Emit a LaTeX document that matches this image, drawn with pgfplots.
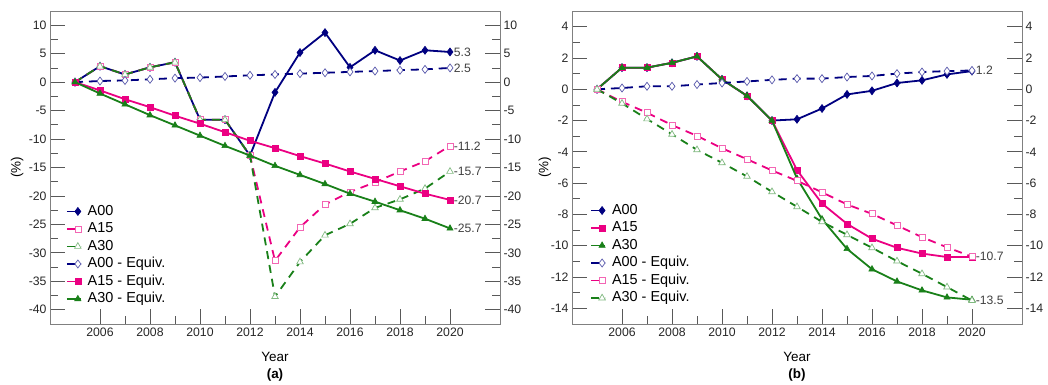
\documentclass[border=0pt]{standalone}
\usepackage{fontspec}
\setmainfont{Liberation Sans}
\usepackage{pgfplots}
\pgfplotsset{compat=1.18}
\definecolor{cnavy}{RGB}{0,0,128}
\definecolor{cpink}{RGB}{235,0,130}
\definecolor{cgreen}{RGB}{25,128,25}
\definecolor{cframe}{RGB}{128,128,128}
\tikzset{vlab/.style={pos=1, anchor=west, xshift=2bp, font=\fontsize{12.2}{14}\selectfont, text=black!75, inner sep=1bp}}
\pgfplotsset{
 base/.style={
  scale only axis, width=450bp, height=313bp, clip mode=individual,
  xmin=2004, xmax=2022,
  xtick={2006,2008,...,2020}, minor x tick num=1, minor y tick num=1,
  tick align=inside, xtick pos=bottom, ytick pos=both,
  major tick length=15bp, minor tick length=8bp,
  axis line style={cframe, line width=1bp},
  every tick/.style={black!65, line width=0.8bp},
  tick label style={font=\fontsize{12.3}{14}\selectfont, text=black!85},
  /pgf/number format/assume math mode=true,
  /pgf/number format/1000 sep={},
  label style={font=\fontsize{13.5}{15}\selectfont},
  xlabel={Year}, ylabel={(\%)},
  xlabel style={at={(axis description cs:0.5,-0.105)}, anchor=center},
  legend cell align=left,
  legend style={draw=none, fill=none, inner sep=0pt, row sep=2bp, font=\fontsize{14.5}{16}\selectfont, nodes={inner sep=1bp, text height=10.5bp, text depth=3bp}, /tikz/every odd column/.append style={column sep=5bp}},
  legend image code/.code={\draw[mark repeat=2, mark phase=2, #1] plot coordinates {(0bp,0bp) (11bp,0bp) (14bp,0bp)};},
 },
 raxis/.style={
  scale only axis, width=450bp, height=313bp,
  xmin=2004, xmax=2022, hide x axis, axis y line*=right,
  axis line style={draw=none}, ytick style={draw=none},
  yticklabel pos=right,
  tick label style={font=\fontsize{12.3}{14}\selectfont, text=black!85},
  /pgf/number format/assume math mode=true,
 },
 sol/.style={line width=1.8bp, solid},
 dsh/.style={line width=1.8bp, dash pattern=on 8bp off 6bp},
 sA00/.style={sol, cnavy, mark=diamond*, mark size=4bp, mark options={solid, fill=cnavy, line width=0.6bp}},
 sA15/.style={sol, cpink, mark=square*, mark size=3bp, mark options={solid, fill=cpink, line width=0.6bp}},
 sA30/.style={sol, cgreen, mark=triangle*, mark size=3.6bp, mark options={solid, fill=cgreen, line width=0.6bp}},
 oA00/.style={dsh, cnavy, mark=diamond*, mark size=4bp, mark options={solid, fill=white, draw=cnavy!65, line width=0.7bp}},
 oA15/.style={dsh, cpink, mark=square*, mark size=3bp, mark options={solid, fill=white, draw=cpink!60, line width=0.7bp}},
 oA30/.style={dsh, cgreen, mark=triangle*, mark size=3.8bp, mark options={solid, fill=white, draw=cgreen!55, line width=0.7bp}},
}
\begin{document}
\begin{tikzpicture}
\path[use as bounding box] (0,0) rectangle (1048bp,-385bp);
% ---------------- panel (a)
\begin{axis}[base, at={(50bp,-324bp)}, anchor=south west,
  ymin=-42.5, ymax=12.5, ytick={-40,-35,...,10},
  ylabel style={at={(axis description cs:-0.073,0.5)}, anchor=center},
  legend style={at={(axis description cs:0.035,0.385)}, anchor=north west}]
\addplot[sA00] coordinates {(2005,0)(2006,2.8)(2007,1.35)(2008,2.6)(2009,3.5)(2010,-6.6)(2011,-6.6)(2012,-12.9)(2013,-1.8)(2014,5.2)(2015,8.7)(2016,2.6)(2017,5.6)(2018,3.8)(2019,5.6)(2020,5.3)} node[vlab]{5.3};
\addlegendentry{A00}
\addplot[oA15] coordinates {(2005,0)(2006,2.8)(2007,1.35)(2008,2.6)(2009,3.5)(2010,-6.6)(2011,-6.6)(2012,-12.9)(2013,-31.4)(2014,-25.5)(2015,-21.5)(2016,-19.3)(2017,-17.6)(2018,-15.7)(2019,-13.9)(2020,-11.2)} node[vlab]{-11.2};
\addlegendentry{A15}
\addplot[oA30] coordinates {(2005,0)(2006,2.8)(2007,1.35)(2008,2.6)(2009,3.5)(2010,-6.6)(2011,-6.6)(2012,-12.9)(2013,-37.7)(2014,-31.6)(2015,-26.9)(2016,-24.9)(2017,-22.1)(2018,-20.6)(2019,-18.7)(2020,-15.7)} node[vlab]{-15.7};
\addlegendentry{A30}
\addplot[oA00] coordinates {(2005,0)(2006,0.2)(2007,0.3)(2008,0.5)(2009,0.7)(2010,0.8)(2011,1.0)(2012,1.2)(2013,1.35)(2014,1.5)(2015,1.65)(2016,1.8)(2017,1.95)(2018,2.1)(2019,2.25)(2020,2.5)} node[vlab]{2.5};
\addlegendentry{A00 - Equiv.}
\addplot[sA15] coordinates {(2005,0)(2006,-1.45)(2007,-3.0)(2008,-4.4)(2009,-5.9)(2010,-7.3)(2011,-8.8)(2012,-10.3)(2013,-11.6)(2014,-13.0)(2015,-14.3)(2016,-15.7)(2017,-17.0)(2018,-18.3)(2019,-19.6)(2020,-20.7)} node[vlab]{-20.7};
\addlegendentry{A15 - Equiv.}
\addplot[sA30] coordinates {(2005,0)(2006,-2.0)(2007,-3.9)(2008,-5.8)(2009,-7.6)(2010,-9.4)(2011,-11.2)(2012,-12.9)(2013,-14.7)(2014,-16.3)(2015,-17.9)(2016,-19.6)(2017,-21.0)(2018,-22.5)(2019,-24.0)(2020,-25.7)} node[vlab]{-25.7};
\addlegendentry{A30 - Equiv.}
\node[font=\bfseries\fontsize{13.5}{15}\selectfont] at (axis description cs:0.5,-0.163) {(a)};
\end{axis}
\begin{axis}[raxis, at={(50bp,-324bp)}, anchor=south west,
  ymin=-42.5, ymax=12.5, ytick={-40,-35,...,10}]
\end{axis}
% ---------------- panel (b)
\begin{axis}[base, at={(572bp,-324bp)}, anchor=south west,
  ymin=-15, ymax=5, ytick={-14,-12,...,4},
  ylabel style={at={(axis description cs:-0.06,0.5)}, anchor=center},
  legend style={at={(axis description cs:0.04,0.388)}, anchor=north west}]
\addplot[sA00] coordinates {(2005,0)(2006,1.38)(2007,1.38)(2008,1.69)(2009,2.1)(2010,0.63)(2011,-0.42)(2012,-2.0)(2013,-1.92)(2014,-1.23)(2015,-0.33)(2016,-0.1)(2017,0.4)(2018,0.57)(2019,0.95)(2020,1.16)};
\addlegendentry{A00}
\addplot[sA15] coordinates {(2005,0)(2006,1.38)(2007,1.38)(2008,1.69)(2009,2.1)(2010,0.63)(2011,-0.42)(2012,-2.0)(2013,-5.17)(2014,-7.3)(2015,-8.6)(2016,-9.55)(2017,-10.13)(2018,-10.5)(2019,-10.72)(2020,-10.72)};
\addlegendentry{A15}
\addplot[sA30] coordinates {(2005,0)(2006,1.38)(2007,1.38)(2008,1.69)(2009,2.1)(2010,0.63)(2011,-0.42)(2012,-2.0)(2013,-5.7)(2014,-8.3)(2015,-10.2)(2016,-11.5)(2017,-12.28)(2018,-12.85)(2019,-13.3)(2020,-13.45)};
\addlegendentry{A30}
\addplot[oA00] coordinates {(2005,0)(2006,0.08)(2007,0.19)(2008,0.19)(2009,0.3)(2010,0.4)(2011,0.5)(2012,0.6)(2013,0.68)(2014,0.68)(2015,0.78)(2016,0.85)(2017,1.0)(2018,1.1)(2019,1.16)(2020,1.2)} node[vlab]{1.2};
\addlegendentry{A00 - Equiv.}
\addplot[oA15] coordinates {(2005,0)(2006,-0.8)(2007,-1.5)(2008,-2.29)(2009,-2.98)(2010,-3.77)(2011,-4.47)(2012,-5.19)(2013,-5.85)(2014,-6.58)(2015,-7.36)(2016,-7.96)(2017,-8.7)(2018,-9.45)(2019,-10.1)(2020,-10.7)} node[vlab]{-10.7};
\addlegendentry{A15 - Equiv.}
\addplot[oA30] coordinates {(2005,0)(2006,-0.9)(2007,-1.9)(2008,-2.88)(2009,-3.87)(2010,-4.7)(2011,-5.57)(2012,-6.55)(2013,-7.51)(2014,-8.47)(2015,-9.3)(2016,-10.13)(2017,-10.98)(2018,-11.79)(2019,-12.64)(2020,-13.5)} node[vlab]{-13.5};
\addlegendentry{A30 - Equiv.}
\node[font=\bfseries\fontsize{13.5}{15}\selectfont] at (axis description cs:0.5,-0.163) {(b)};
\end{axis}
\begin{axis}[raxis, at={(572bp,-324bp)}, anchor=south west,
  ymin=-15, ymax=5, ytick={-14,-12,...,4}]
\end{axis}
\end{tikzpicture}
\end{document}
